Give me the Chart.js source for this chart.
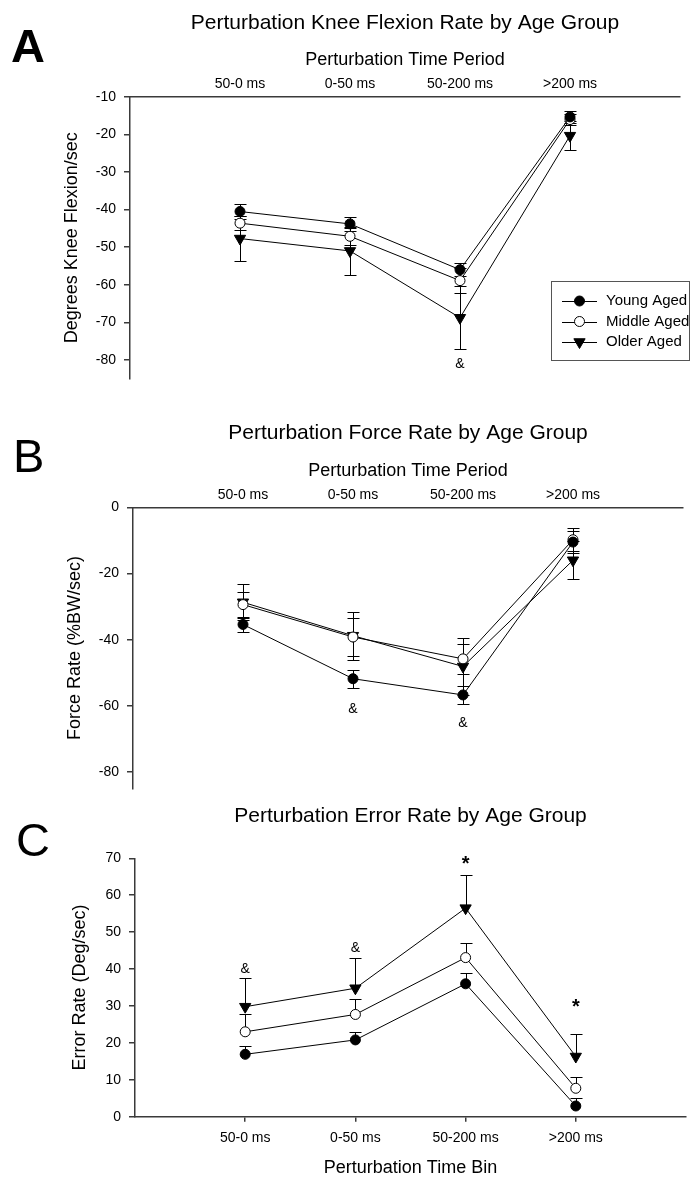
<!DOCTYPE html>
<html lang="en">
<head>
<meta charset="UTF-8">
<title>Perturbation rates by age group</title>
<script src="https://cdn.jsdelivr.net/npm/chart.js"></script>
<style>
  body { margin: 0; background: #fff; }
  #page { position: relative; width: 695px; height: 1180px; overflow: hidden; font-family: "Liberation Sans", Arial, sans-serif; }
  canvas { position: absolute; left: 0; }
  .panel { position: absolute; font-size: 47px; line-height: 1; color: #000; }
</style>
</head>
<body>
<div id="page">
  <canvas id="chartA" width="695" height="395" style="top:0"></canvas>
  <canvas id="chartB" width="695" height="410" style="top:395px"></canvas>
  <canvas id="chartC" width="695" height="380" style="top:800px"></canvas>
  <div class="panel" style="left:11px;top:22px;font-weight:bold">A</div>
  <div class="panel" style="left:13px;top:432px">B</div>
  <div class="panel" style="left:16px;top:816px">C</div>
</div>

<script>
// time bins shared by all three panels
const cats = ['50-0 ms', '0-50 ms', '50-200 ms', '>200 ms'];
const groups = ['Young Aged', 'Middle Aged', 'Older Aged'];

// A: knee flexion rate (deg/sec), mean and SE
const kneeYoung = [-40.5, -43.8, -56.0, -15.3];
const kneeMiddle = [-43.6, -47.1, -58.9, -16.0];
const kneeOlder = [-47.7, -51.0, -68.8, -20.3];
const kneeYoungSe = [2.0, 1.9, 1.8, 1.5];
const kneeMiddleSe = [1.9, 2.2, 3.4, 1.4];
const kneeOlderSe = [6.0, 6.3, 8.4, 3.9];
const kneeTicks = [-10, -20, -30, -40, -50, -60, -70, -80];

// B: force rate (%BW/sec)
const forceYoung = [-35.4, -51.8, -56.7, -10.5];
const forceMiddle = [-29.4, -39.2, -45.8, -9.8];
const forceOlder = [-28.7, -38.8, -48.1, -16.0];
const forceYoungSe = [2.2, 2.7, 2.6, 3.4];
const forceMiddleSe = [3.9, 5.6, 4.6, 3.5];
const forceOlderSe = [5.5, 7.2, 8.7, 5.7];
const forceTicks = [0, -20, -40, -60, -80];

// C: error rate (deg/sec), SE drawn upward only
const errYoung = [16.9, 20.8, 36.0, 2.9];
const errMiddle = [23.0, 27.7, 43.1, 7.7];
const errOlder = [29.8, 34.8, 56.5, 16.3];
const errYoungSe = [2.3, 2.2, 2.8, 2.2];
const errMiddleSe = [4.8, 4.3, 3.9, 3.1];
const errOlderSe = [7.9, 8.1, 8.9, 6.0];
const errTicks = [0, 10, 20, 30, 40, 50, 60, 70];

// significance marks: bin index, value where the mark sits, symbol
const notesA = [{at: 2, value: -81.1, text: '&'}];
const notesB = [{at: 1, value: -61.0, text: '&'}, {at: 2, value: -65.3, text: '&'}];
const notesC = [
  {at: 0, value: 39.9, text: '&'}, {at: 1, value: 45.6, text: '&'},
  {at: 2, value: 68.2, text: '*'}, {at: 3, value: 29.5, text: '*'}
];

const FONT = '"Liberation Sans", Arial, sans-serif';
const AXIS = '#3a3a3a';

function series(values) {
  return values.map((v, i) => ({x: i, y: v}));
}

function groupDatasets(young, middle, older, seY, seM, seO) {
  const base = {showLine: true, borderColor: '#000', borderWidth: 1, pointBorderColor: '#000',
                pointBorderWidth: 1, clip: false};
  return [
    Object.assign({label: groups[0], data: series(young), se: seY, pointStyle: 'circle',
                   pointRadius: 5, pointBackgroundColor: '#000'}, base),
    Object.assign({label: groups[1], data: series(middle), se: seM, pointStyle: 'circle',
                   pointRadius: 5, pointBackgroundColor: '#fff'}, base),
    Object.assign({label: groups[2], data: series(older), se: seO, pointStyle: 'triangle',
                   pointRotation: 180, pointRadius: 6.5, pointBackgroundColor: '#000'}, base)
  ];
}

// mean +/- SE whiskers, drawn under the markers
const errorBars = {
  id: 'errorBars',
  beforeDatasetsDraw(chart, args, opts) {
    const {ctx, scales: {x, y}} = chart;
    ctx.save();
    ctx.strokeStyle = '#000';
    ctx.lineWidth = 1;
    chart.data.datasets.forEach(ds => {
      ds.data.forEach((p, i) => {
        const e = ds.se[i];
        const px = Math.round(x.getPixelForValue(p.x)) + 0.5;
        const yHi = Math.round(y.getPixelForValue(p.y + e)) + 0.5;
        const yLo = Math.round(y.getPixelForValue(opts.upOnly ? p.y : p.y - e)) + 0.5;
        ctx.beginPath();
        ctx.moveTo(px, yHi); ctx.lineTo(px, yLo);
        ctx.moveTo(px - 6, yHi); ctx.lineTo(px + 6, yHi);
        if (!opts.upOnly) { ctx.moveTo(px - 6, yLo); ctx.lineTo(px + 6, yLo); }
        ctx.stroke();
      });
    });
    ctx.restore();
  }
};

const notes = {
  id: 'notes',
  afterDatasetsDraw(chart, args, opts) {
    const {ctx, scales: {x, y}} = chart;
    ctx.save();
    ctx.fillStyle = '#000';
    ctx.textAlign = 'center';
    ctx.textBaseline = 'middle';
    (opts.items || []).forEach(n => {
      ctx.font = n.text === '*' ? 'bold 20px ' + FONT : '14px ' + FONT;
      ctx.fillText(n.text, x.getPixelForValue(n.at), y.getPixelForValue(n.value));
    });
    ctx.restore();
  }
};

function drawMarker(ctx, ds, px, py) {
  ctx.save();
  ctx.fillStyle = ds.pointBackgroundColor;
  ctx.strokeStyle = '#000';
  ctx.lineWidth = 1;
  ctx.beginPath();
  if (ds.pointStyle === 'triangle') {
    const r = ds.pointRadius;
    ctx.moveTo(px, py + r);
    ctx.lineTo(px - r * 0.866, py - r / 2);
    ctx.lineTo(px + r * 0.866, py - r / 2);
    ctx.closePath();
  } else {
    ctx.arc(px, py, ds.pointRadius, 0, Math.PI * 2);
  }
  ctx.fill();
  ctx.stroke();
  ctx.restore();
}

// boxed legend inside panel A
const boxLegend = {
  id: 'boxLegend',
  afterDraw(chart, args, opts) {
    if (!opts.show) return;
    const {ctx} = chart;
    ctx.save();
    ctx.strokeStyle = '#555';
    ctx.lineWidth = 1;
    ctx.strokeRect(551.5, 281.5, 138, 79);
    ctx.font = '15px ' + FONT;
    ctx.textBaseline = 'middle';
    ctx.fillStyle = '#000';
    chart.data.datasets.forEach((ds, i) => {
      const ly = 301 + i * 20.5;
      ctx.strokeStyle = '#000';
      ctx.beginPath();
      ctx.moveTo(562, Math.round(ly) + 0.5);
      ctx.lineTo(597, Math.round(ly) + 0.5);
      ctx.stroke();
      drawMarker(ctx, ds, 579.5, ly);
      ctx.fillText(ds.label, 606, ly);
    });
    ctx.restore();
  }
};

function panel(id, cfg) {
  const top = cfg.xPos === 'top';
  return new Chart(document.getElementById(id), {
    type: 'scatter',
    data: {datasets: cfg.datasets},
    plugins: [errorBars, notes, boxLegend],
    options: {
      responsive: false,
      animation: false,
      devicePixelRatio: 1,
      layout: {padding: {left: 0, right: cfg.padRight, top: 0, bottom: cfg.padBottom}},
      plugins: {
        legend: {display: false},
        tooltip: {enabled: false},
        title: {
          display: true, text: cfg.title, fullSize: false, color: '#000',
          font: {family: FONT, size: 21, weight: 'normal'},
          padding: {top: cfg.titleTop, bottom: cfg.titleBottom}
        },
        errorBars: {upOnly: cfg.upOnly},
        notes: {items: cfg.notes},
        boxLegend: {show: !!cfg.legend}
      },
      scales: {
        x: {
          type: 'linear', position: cfg.xPos, min: -1, max: 4,
          afterBuildTicks: s => { s.ticks = cats.map((c, i) => ({value: i})); },
          afterFit: s => { s.height = cfg.xHeight; },
          ticks: {callback: v => cats[v], color: '#000', autoSkip: false, maxRotation: 0,
                  font: {family: FONT, size: 14}, padding: cfg.xTickPad},
          grid: {display: !top, drawOnChartArea: false, drawTicks: !top, tickLength: 5,
                 color: AXIS, lineWidth: 1.5},
          border: {display: true, color: AXIS, width: 1.5},
          title: {display: true, text: cfg.xTitle, color: '#000',
                  font: {family: FONT, size: 18}, padding: cfg.xTitlePad}
        },
        y: {
          min: cfg.yMin, max: cfg.yMax,
          afterBuildTicks: s => { s.ticks = cfg.yTicks.map(v => ({value: v})); },
          afterFit: s => { s.width = cfg.yWidth; },
          ticks: {color: '#000', font: {family: FONT, size: 14}, padding: 8},
          grid: {display: true, drawOnChartArea: false, drawTicks: true, tickLength: 6,
                 color: AXIS, lineWidth: 1.5},
          border: {display: true, color: AXIS, width: 1.5},
          title: {display: true, text: cfg.yTitle, color: '#000',
                  font: {family: FONT, size: 18}, padding: {top: cfg.yTitlePad, bottom: 0}}
        }
      }
    }
  });
}

panel('chartA', {
  title: 'Perturbation Knee Flexion Rate by Age Group',
  datasets: groupDatasets(kneeYoung, kneeMiddle, kneeOlder, kneeYoungSe, kneeMiddleSe, kneeOlderSe),
  xPos: 'top', xTitle: 'Perturbation Time Period', xHeight: 61.4, xTickPad: 4,
  xTitlePad: {top: 14, bottom: 0},
  yTitle: 'Degrees Knee Flexion/sec', yMin: -85, yMax: -10, yTicks: kneeTicks,
  yWidth: 130, yTitlePad: 61.7,
  titleTop: 10.4, titleBottom: 0, padRight: 15, padBottom: 13,
  notes: notesA, upOnly: false, legend: true
});

panel('chartB', {
  title: 'Perturbation Force Rate by Age Group',
  datasets: groupDatasets(forceYoung, forceMiddle, forceOlder, forceYoungSe, forceMiddleSe, forceOlderSe),
  xPos: 'top', xTitle: 'Perturbation Time Period', xHeight: 61.4, xTickPad: 4,
  xTitlePad: {top: 14, bottom: 0},
  yTitle: 'Force Rate (%BW/sec)', yMin: -85, yMax: 0, yTicks: forceTicks,
  yWidth: 133, yTitlePad: 64.7,
  titleTop: 25.7, titleBottom: 0, padRight: 12, padBottom: 12.3,
  notes: notesB, upOnly: false
});

panel('chartC', {
  title: 'Perturbation Error Rate by Age Group',
  datasets: groupDatasets(errYoung, errMiddle, errOlder, errYoungSe, errMiddleSe, errOlderSe),
  xPos: 'bottom', xTitle: 'Perturbation Time Bin', xHeight: 63.3, xTickPad: 8,
  xTitlePad: {top: 0, bottom: 1.2},
  yTitle: 'Error Rate (Deg/sec)', yMin: 0, yMax: 70, yTicks: errTicks,
  yWidth: 135, yTitlePad: 69.2,
  titleTop: 3.4, titleBottom: 29.7, padRight: 9, padBottom: 0,
  notes: notesC, upOnly: true
});
</script>
</body>
</html>
